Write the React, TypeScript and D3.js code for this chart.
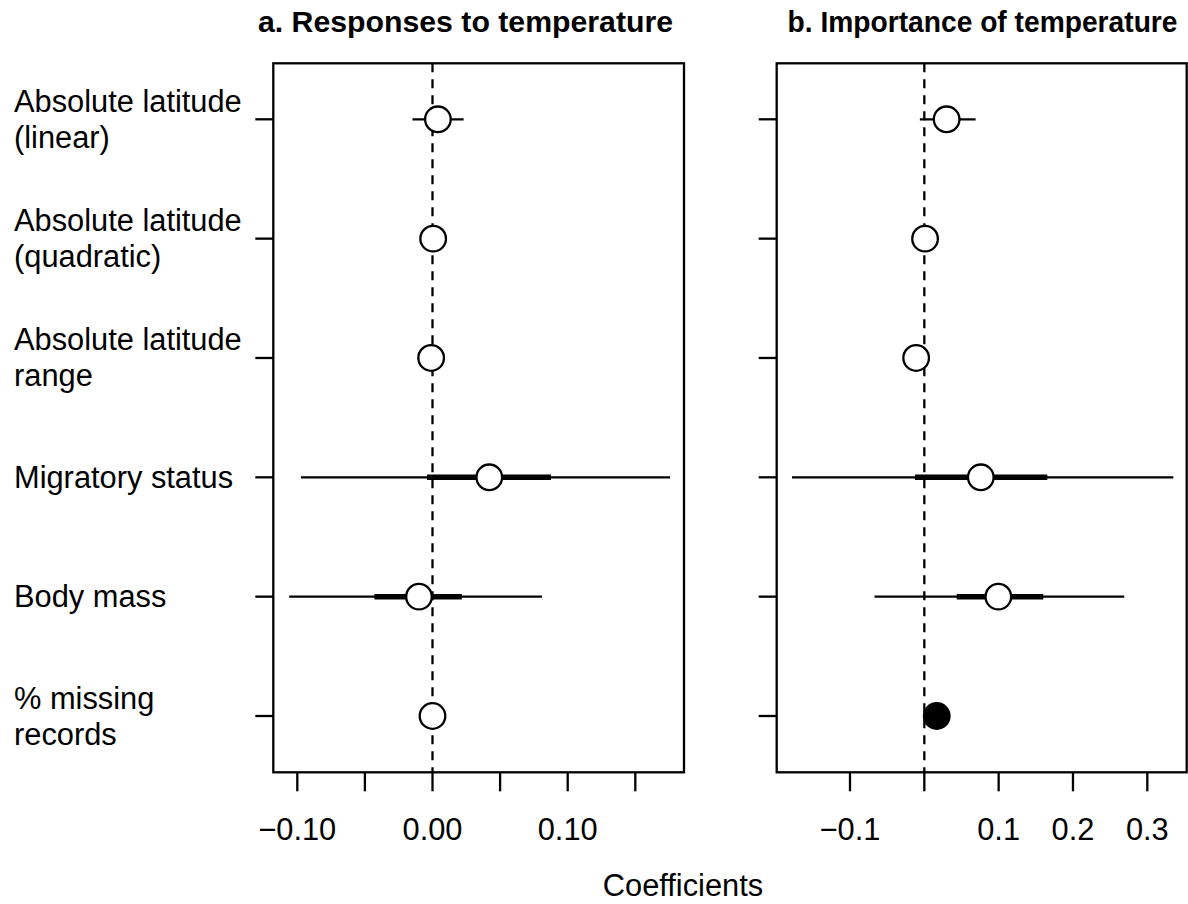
import React from "react";
import * as d3 from "d3";

const categories: string[][] = [
  ["Absolute latitude", "(linear)"],
  ["Absolute latitude", "(quadratic)"],
  ["Absolute latitude", "range"],
  ["Migratory status"],
  ["Body mass"],
  ["% missing", "records"],
];

// panel a: Responses to temperature
const estA = [0.004, 0.0005, -0.001, 0.042, -0.01, 0.0];
const lo95A = [-0.0148, -0.004, -0.005, -0.0973, -0.106, -0.002];
const hi95A = [0.023, 0.005, 0.003, 0.1758, 0.081, 0.002];
const lo50A = [-0.004, -0.002, -0.003, -0.004, -0.043, -0.001];
const hi50A = [0.012, 0.003, 0.001, 0.0876, 0.0217, 0.001];
const filledA = [false, false, false, false, false, false];

// panel b: Importance of temperature
const estB = [0.03, 0.001, -0.011, 0.076, 0.0996, 0.0167];
const lo95B = [-0.006, -0.008, -0.0287, -0.178, -0.067, 0.01];
const hi95B = [0.069, 0.01, 0.005, 0.335, 0.269, 0.023];
const lo50B = [0.015, -0.003, -0.02, -0.0125, 0.0436, 0.013];
const hi50B = [0.045, 0.005, -0.002, 0.1655, 0.16, 0.02];
const filledB = [false, false, false, false, false, true];

const ticksA = [-0.1, -0.05, 0, 0.05, 0.1, 0.15];
const tickLabelsA = ["\u22120.10", "", "0.00", "", "0.10", ""];
const ticksB = [-0.1, 0, 0.1, 0.2, 0.3];
const tickLabelsB = ["\u22120.1", "", "0.1", "0.2", "0.3"];

const titleA = "a. Responses to temperature";
const titleB = "b. Importance of temperature";
const xTitle = "Coefficients";

const FONT = "'Liberation Sans', Arial, sans-serif";
const FS = 30.8;
const LW = 2.3;

const top = 63.3;
const bottom = 772.3;

const y = d3
  .scalePoint<number>()
  .domain(d3.range(categories.length))
  .range([119.3, 716]);

type PanelProps = {
  left: number;
  right: number;
  x: d3.ScaleLinear<number, number>;
  est: number[];
  lo95: number[];
  hi95: number[];
  lo50: number[];
  hi50: number[];
  filled: boolean[];
  ticks: number[];
  tickLabels: string[];
  title: string;
  titleX: number;
  titleLen: number;
};

function Panel(p: PanelProps) {
  const { x } = p;
  const x0 = x(0);
  return (
    <g>
      <text
        x={p.titleX}
        y={32}
        textAnchor="middle"
        fontFamily={FONT}
        fontWeight="bold"
        fontSize={30}
        textLength={p.titleLen}
        lengthAdjust="spacingAndGlyphs"
      >
        {p.title}
      </text>
      <line x1={x0} x2={x0} y1={top} y2={bottom} stroke="#000" strokeWidth={LW} strokeDasharray="9,7" />
      {categories.map((_, i) => (
        <g key={i}>
          <line x1={x(p.lo95[i])} x2={x(p.hi95[i])} y1={y(i)} y2={y(i)} stroke="#000" strokeWidth={LW} />
          <line x1={x(p.lo50[i])} x2={x(p.hi50[i])} y1={y(i)} y2={y(i)} stroke="#000" strokeWidth={5.5} />
          <circle
            cx={x(p.est[i])}
            cy={y(i)}
            r={12.8}
            fill={p.filled[i] ? "#000" : "#fff"}
            stroke="#000"
            strokeWidth={LW}
          />
        </g>
      ))}
      <rect
        x={p.left}
        y={top}
        width={p.right - p.left}
        height={bottom - top}
        fill="none"
        stroke="#000"
        strokeWidth={LW}
      />
      {categories.map((_, i) => (
        <line key={"yt" + i} x1={p.left - 18} x2={p.left} y1={y(i)} y2={y(i)} stroke="#000" strokeWidth={LW} />
      ))}
      {p.ticks.map((t, i) => (
        <g key={"xt" + i}>
          <line x1={x(t)} x2={x(t)} y1={bottom} y2={bottom + 19} stroke="#000" strokeWidth={LW} />
          <text x={x(t)} y={840} textAnchor="middle" fontFamily={FONT} fontSize={FS}>
            {p.tickLabels[i]}
          </text>
        </g>
      ))}
    </g>
  );
}

export default function App() {
  const xA = d3.scaleLinear().domain([-0.1, 0.15]).range([297.3, 635.3]);
  const xB = d3.scaleLinear().domain([-0.1, 0.3]).range([850, 1147.3]);
  return (
    <svg
      width={1188}
      height={904}
      style={{ position: "absolute", left: 0, top: 0, background: "#fff" }}
    >
      <rect x={0} y={0} width={1188} height={904} fill="#fff" />
      {categories.map((lines, i) => {
        const n = lines.length;
        return (
          <text key={"lab" + i} fontFamily={FONT} fontSize={FS}>
            {lines.map((l, j) => (
              <tspan key={j} x={14} y={y(i)! + (j - (n - 1) / 2) * 36 + 10.5}>
                {l}
              </tspan>
            ))}
          </text>
        );
      })}
      <Panel
        left={273.3}
        right={684}
        x={xA}
        est={estA}
        lo95={lo95A}
        hi95={hi95A}
        lo50={lo50A}
        hi50={hi50A}
        filled={filledA}
        ticks={ticksA}
        tickLabels={tickLabelsA}
        title={titleA}
        titleX={465.5}
        titleLen={415}
      />
      <Panel
        left={776.7}
        right={1186.7}
        x={xB}
        est={estB}
        lo95={lo95B}
        hi95={hi95B}
        lo50={lo50B}
        hi50={hi50B}
        filled={filledB}
        ticks={ticksB}
        tickLabels={tickLabelsB}
        title={titleB}
        titleX={982.5}
        titleLen={390}
      />
      <text x={683} y={896} textAnchor="middle" fontFamily={FONT} fontSize={FS}>
        {xTitle}
      </text>
    </svg>
  );
}
